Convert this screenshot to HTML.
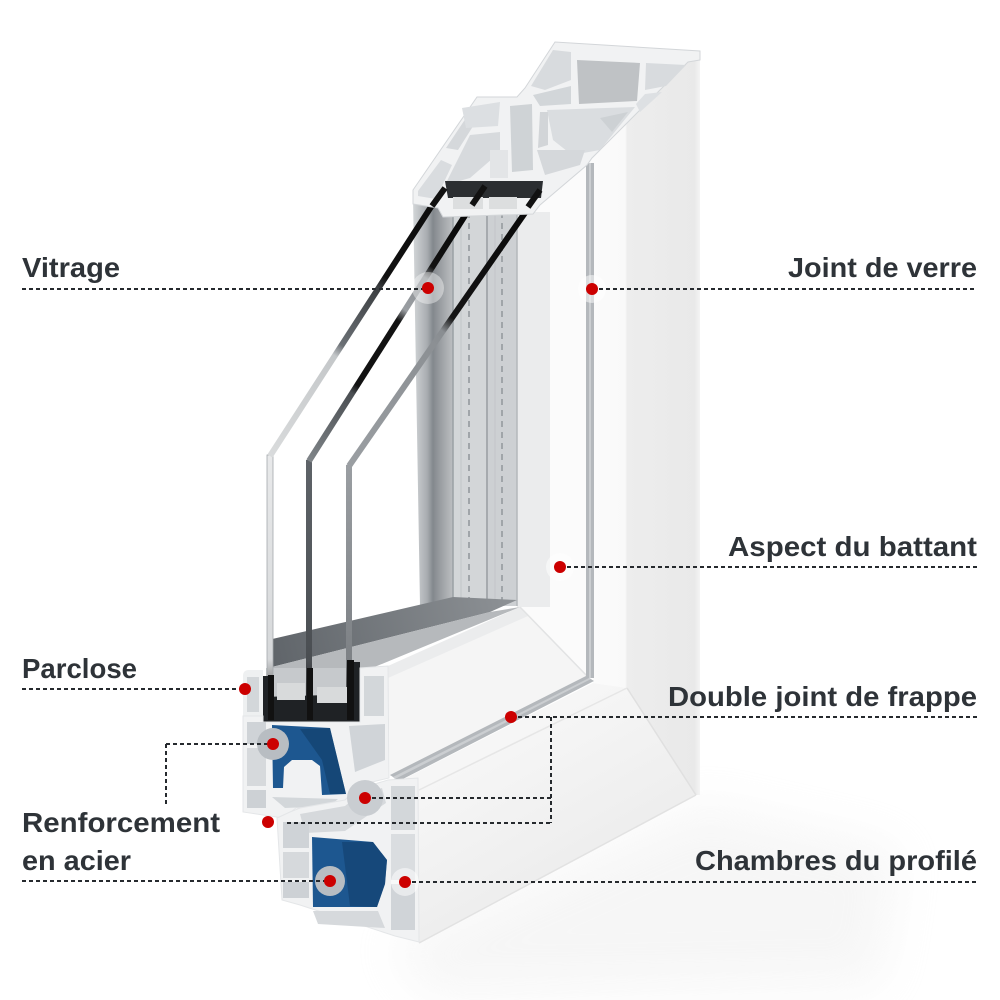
<!DOCTYPE html>
<html><head><meta charset="utf-8">
<style>
html,body{margin:0;padding:0;background:#fff;}
svg{display:block;}
text{font-family:"Liberation Sans",Arial,sans-serif;font-weight:bold;fill:#2e3338;font-size:28px;}
</style></head><body>
<svg width="1000" height="1000" viewBox="0 0 1000 1000" xmlns="http://www.w3.org/2000/svg">
<defs>
  <filter id="blur" x="-30%" y="-60%" width="160%" height="220%"><feGaussianBlur stdDeviation="24"/></filter>
  <linearGradient id="slab" gradientUnits="userSpaceOnUse" x1="593" y1="0" x2="700" y2="0">
    <stop offset="0" stop-color="#fbfbfb"/><stop offset="0.3" stop-color="#f9f9f9"/>
    <stop offset="0.32" stop-color="#ededed"/><stop offset="0.95" stop-color="#e9e9e9"/><stop offset="1" stop-color="#f4f4f4"/>
  </linearGradient>
  <linearGradient id="bface" gradientUnits="userSpaceOnUse" x1="500" y1="700" x2="600" y2="880">
    <stop offset="0" stop-color="#f8f8f8"/><stop offset="1" stop-color="#ececec"/>
  </linearGradient>
  <linearGradient id="band" gradientUnits="userSpaceOnUse" x1="413" y1="0" x2="453" y2="0">
    <stop offset="0" stop-color="#d3d6d8"/><stop offset="0.35" stop-color="#a9adb1"/>
    <stop offset="0.5" stop-color="#83888d"/><stop offset="1" stop-color="#90949899"/>
  </linearGradient>
  <linearGradient id="wedge" gradientUnits="userSpaceOnUse" x1="268" y1="660" x2="517" y2="600">
    <stop offset="0" stop-color="#5f6469"/><stop offset="1" stop-color="#8e9296"/>
  </linearGradient>
  <linearGradient id="d1" gradientUnits="userSpaceOnUse" x1="270" y1="455" x2="440" y2="193">
    <stop offset="0" stop-color="#d9dbdc"/><stop offset="0.38" stop-color="#c4c7c9"/>
    <stop offset="0.42" stop-color="#6b7075"/><stop offset="0.64" stop-color="#3a3d40"/>
    <stop offset="0.68" stop-color="#111"/><stop offset="1" stop-color="#0c0c0c"/>
  </linearGradient>
  <linearGradient id="d2" gradientUnits="userSpaceOnUse" x1="309" y1="460" x2="480" y2="192">
    <stop offset="0" stop-color="#7f8488"/><stop offset="0.25" stop-color="#4a4e52"/>
    <stop offset="0.28" stop-color="#121212"/><stop offset="0.52" stop-color="#121212"/>
    <stop offset="0.56" stop-color="#9a9ea2"/><stop offset="0.68" stop-color="#8a8e92"/>
    <stop offset="0.72" stop-color="#111"/><stop offset="1" stop-color="#050505"/>
  </linearGradient>
  <linearGradient id="d3" gradientUnits="userSpaceOnUse" x1="349" y1="465" x2="536" y2="197">
    <stop offset="0" stop-color="#9a9ea2"/><stop offset="0.5" stop-color="#8a8e92"/>
    <stop offset="0.55" stop-color="#151515"/><stop offset="1" stop-color="#080808"/>
  </linearGradient>
  <linearGradient id="v2" x1="0" y1="0" x2="0" y2="1">
    <stop offset="0" stop-color="#5e6368"/><stop offset="0.8" stop-color="#4a4e52"/><stop offset="1" stop-color="#1a1a1a"/>
  </linearGradient>
  <linearGradient id="v3" x1="0" y1="0" x2="0" y2="1">
    <stop offset="0" stop-color="#9a9ea2"/><stop offset="0.8" stop-color="#7d8185"/><stop offset="1" stop-color="#2a2a2a"/>
  </linearGradient>
  <linearGradient id="v1" x1="0" y1="0" x2="0" y2="1">
    <stop offset="0" stop-color="#e8e9ea"/><stop offset="0.8" stop-color="#d6d8da"/><stop offset="1" stop-color="#3a3a3a"/>
  </linearGradient>
</defs>

<rect width="1000" height="1000" fill="#fff"/>

<!-- floor shadow -->
<polygon points="390,945 700,805 900,850 880,985 430,995" fill="#e4e4e4" opacity="0.32" filter="url(#blur)"/>

<!-- frame right vertical face -->
<polygon points="590,160 688,60 700,52 700,795 695,795 627,688 593,683" fill="url(#slab)"/>
<!-- frame bottom face -->
<polygon points="593,683 627,688 696,795 419,943 418,778 398,782" fill="url(#bface)"/>
<line x1="627" y1="688" x2="696" y2="795" stroke="#e0e0e0" stroke-width="1.5"/>
<line x1="419" y1="790" x2="627" y2="688" stroke="#e6e6e6" stroke-width="1.5"/>
<line x1="696" y1="795" x2="419" y2="943" stroke="#e2e2e2" stroke-width="1.5"/>

<!-- sash vertical face -->
<polygon points="517,215 540,205 587,165 587,676 520,607 517,607" fill="#fbfbfb"/>
<rect x="517" y="212" width="33" height="395" fill="#ebeced"/>
<!-- sash bottom face -->
<polygon points="388,666 520,607 587,676 390,776" fill="#f5f5f5"/>
<polygon points="388,666 520,607 528,616 388,678" fill="#ebeced"/>
<line x1="520" y1="607" x2="587" y2="676" stroke="#e2e3e4" stroke-width="1.5"/>

<!-- gasket -->
<rect x="586" y="163" width="8" height="515" fill="#b4b8bc"/>
<rect x="589" y="163" width="2" height="515" fill="#cbced1"/>
<polygon points="586,676 594,681 399,781 390,775" fill="#b4b8bc"/>
<polygon points="589,678 591,679 395,779 393,777" fill="#cbced1"/>

<!-- view through glass: parclose band and spacers -->
<polygon points="413,198 453,198 453,606 420,606" fill="url(#band)"/>
<rect x="453" y="198" width="34" height="408" fill="#d3d6d8"/>
<rect x="487" y="198" width="30" height="408" fill="#cdd0d3"/>
<line x1="453" y1="198" x2="453" y2="606" stroke="#9aa0a4" stroke-width="1.5"/>
<line x1="487" y1="198" x2="487" y2="606" stroke="#a6aaae" stroke-width="2"/>
<line x1="517" y1="198" x2="517" y2="606" stroke="#b4b8bb" stroke-width="1.5"/>
<line x1="469" y1="212" x2="469" y2="600" stroke="#a0a5a9" stroke-width="2" stroke-dasharray="6 5"/>
<line x1="502" y1="212" x2="502" y2="600" stroke="#a0a5a9" stroke-width="2" stroke-dasharray="6 5"/>
<line x1="461" y1="212" x2="461" y2="600" stroke="#c2c5c8" stroke-width="1"/>
<line x1="495" y1="212" x2="495" y2="600" stroke="#c2c5c8" stroke-width="1"/>

<!-- bottom of glazing: dark band, light strip -->
<polygon points="268,640 453,597 517,600 490,612 268,668" fill="url(#wedge)"/>
<polygon points="268,668 490,612 520,607 360,673 268,692" fill="#b6b9bc"/>
<rect x="266" y="668" width="92" height="32" fill="#c6c9cc"/>

<!-- glass panes -->
<rect x="267" y="455" width="6" height="255" fill="url(#v1)" stroke="#a4a8ac" stroke-width="0.8"/>
<line x1="270" y1="456" x2="440" y2="193" stroke="url(#d1)" stroke-width="6"/>
<rect x="306" y="460" width="6" height="250" fill="url(#v2)"/>
<line x1="309" y1="461" x2="480" y2="192" stroke="url(#d2)" stroke-width="6"/>
<rect x="346" y="465" width="6" height="245" fill="url(#v3)"/>
<line x1="349" y1="466" x2="536" y2="197" stroke="url(#d3)" stroke-width="6"/>

<!-- top cut section -->
<polygon points="413,204 413,190 477,97 517,97 525,88 555,42 700,51 700,60 688,62 592,158 587,165 540,205 533,214 443,217 438,208" fill="#f1f2f3" stroke="#d3d6d9" stroke-width="1"/>
<!-- frame chambers -->
<polygon points="531,86 553,50 571,52 571,80 545,90" fill="#d8dbde"/>
<polygon points="533,95 571,86 571,104 540,106" fill="#d2d6d9"/>
<polygon points="577,60 640,63 637,101 579,104" fill="#bfc2c5"/>
<polygon points="646,63 686,65 666,86 645,90" fill="#d8dbde"/>
<polygon points="645,94 662,92 640,112 636,104" fill="#dde0e3"/>
<polygon points="547,110 635,107 600,150 572,155 553,140" fill="#dadde0"/>
<polygon points="600,118 628,112 612,132" fill="#cdd1d4"/>
<!-- sash chambers -->
<polygon points="418,196 418,191 441,160 452,165 436,199" fill="#d9dcdf"/>
<polygon points="446,148 470,112 482,112 458,150" fill="#d5d8db"/>
<polygon points="462,108 500,102 498,126 466,128" fill="#dcdfe2"/>
<polygon points="445,185 470,135 500,132 500,152 470,178" fill="#d7dadd"/>
<polygon points="510,106 532,104 533,170 512,172" fill="#cfd3d6"/>
<polygon points="490,150 508,150 508,178 490,178" fill="#e3e5e7"/>
<polygon points="537,150 585,150 580,165 545,175" fill="#d5d8db"/>
<polygon points="540,112 548,112 548,145 538,148" fill="#d2d5d8"/>
<!-- black glass top -->
<polygon points="445,181 543,181 541,198 448,198" fill="#2b2e31"/>
<rect x="453" y="197" width="30" height="12" fill="#dcdedf"/>
<rect x="489" y="197" width="28" height="12" fill="#dcdedf"/>
<line x1="432" y1="206" x2="445" y2="188" stroke="#111" stroke-width="6"/>
<line x1="472" y1="205" x2="485" y2="186" stroke="#111" stroke-width="6"/>
<line x1="528" y1="207" x2="540" y2="190" stroke="#111" stroke-width="6"/>

<!-- bottom: black glass base -->
<polygon points="263,697 360,694 360,722 263,722" fill="#1f2225"/>
<rect x="263" y="676" width="6" height="46" fill="#1f2225"/>
<rect x="354" y="662" width="6" height="60" fill="#1f2225"/>
<rect x="277" y="683" width="28" height="17" fill="#d8dadb"/>
<rect x="317" y="687" width="31" height="16" fill="#d8dadb"/>
<rect x="268" y="675" width="6" height="45" fill="#111"/>
<rect x="307" y="668" width="6" height="52" fill="#111"/>
<rect x="347" y="660" width="7" height="60" fill="#111"/>

<!-- parclose -->
<path d="M243,676 Q243,670 249,670 L263,670 L263,716 L243,716 Z" fill="#eef0f1"/>
<rect x="247" y="677" width="12" height="35" fill="#d3d7da"/>

<!-- sash cut section -->
<polygon points="243,716 263,716 263,722 360,722 360,668 388,666 389,778 372,782 350,795 340,805 296,808 283,818 243,812" fill="#f1f2f3" stroke="#e4e6e8" stroke-width="1"/>
<rect x="364" y="676" width="20" height="40" fill="#d3d7da"/>
<rect x="247" y="722" width="19" height="22" fill="#cfd3d7"/>
<rect x="247" y="748" width="19" height="38" fill="#d6d9dc"/>
<rect x="247" y="790" width="19" height="18" fill="#cdd1d5"/>
<polygon points="349,726 385,724 385,760 355,772" fill="#d0d4d8"/>
<polygon points="272,797 338,799 330,806 285,808" fill="#d3d7da"/>

<!-- frame cut section -->
<polygon points="277,818 290,812 300,808 345,800 355,790 388,780 418,778 419,942 395,936 300,905 282,900" fill="#f1f2f3" stroke="#e4e6e8" stroke-width="1"/>
<polygon points="300,814 345,806 356,797 382,788 386,803 345,831 305,833" fill="#d6d9dc"/>
<rect x="283" y="822" width="26" height="26" fill="#cfd3d7"/>
<rect x="283" y="852" width="26" height="26" fill="#d6d9dc"/>
<rect x="283" y="882" width="26" height="16" fill="#cdd1d5"/>
<rect x="391" y="786" width="24" height="44" fill="#d3d7da"/>
<rect x="391" y="834" width="24" height="46" fill="#dadde0"/>
<rect x="391" y="884" width="24" height="46" fill="#d0d4d8"/>
<polygon points="313,911 378,911 385,928 318,924" fill="#d6d9dc"/>

<!-- blue reinforcements -->
<polygon points="272,725 330,728 346,794 322,795 320,766 312,760 292,760 284,767 283,788 273,788" fill="#1d5790"/>
<polygon points="300,729 330,728 346,794 330,794 322,760" fill="#0f3a63" opacity="0.55"/>
<polygon points="312,837 373,842 387,860 385,884 377,907 313,907" fill="#1d5790"/>
<polygon points="342,842 373,842 387,860 385,884 377,907 350,906" fill="#0f3a63" opacity="0.5"/>

<!-- halos -->
<circle cx="428" cy="288" r="16" fill="#fff" opacity="0.4"/>
<circle cx="592" cy="289" r="14" fill="#fff" opacity="0.5"/>
<circle cx="560" cy="567" r="14" fill="#fff" opacity="0.5"/>
<circle cx="273" cy="744" r="16" fill="#b8bdc2"/>
<circle cx="365" cy="798" r="18" fill="#c9cdd1"/>
<circle cx="330" cy="881" r="15" fill="#b8bdc2"/>
<circle cx="405" cy="882" r="14" fill="#fff" opacity="0.5"/>

<!-- dotted leader lines -->
<g stroke="#262a2e" stroke-width="2" stroke-dasharray="4 3" fill="none">
  <line x1="22" y1="289" x2="428" y2="289"/>
  <line x1="592" y1="289" x2="977" y2="289"/>
  <line x1="560" y1="567" x2="977" y2="567"/>
  <line x1="22" y1="689" x2="245" y2="689"/>
  <line x1="511" y1="717" x2="977" y2="717"/>
  <line x1="551" y1="717" x2="551" y2="823"/>
  <line x1="365" y1="798" x2="551" y2="798"/>
  <line x1="287" y1="823" x2="551" y2="823"/>
  <line x1="166" y1="744" x2="273" y2="744"/>
  <line x1="166" y1="744" x2="166" y2="804"/>
  <line x1="22" y1="881" x2="330" y2="881"/>
  <line x1="405" y1="882" x2="977" y2="882"/>
</g>

<!-- red dots -->
<g fill="#cc0000">
  <circle cx="428" cy="288" r="6"/>
  <circle cx="592" cy="289" r="6"/>
  <circle cx="560" cy="567" r="6"/>
  <circle cx="245" cy="689" r="6"/>
  <circle cx="511" cy="717" r="6"/>
  <circle cx="273" cy="744" r="6"/>
  <circle cx="365" cy="798" r="6"/>
  <circle cx="268" cy="822" r="6"/>
  <circle cx="330" cy="881" r="6"/>
  <circle cx="405" cy="882" r="6"/>
</g>

<!-- labels -->
<text x="22" y="277" textLength="98" lengthAdjust="spacingAndGlyphs">Vitrage</text>
<text x="788" y="277" textLength="189" lengthAdjust="spacingAndGlyphs">Joint de verre</text>
<text x="728" y="556" textLength="249" lengthAdjust="spacingAndGlyphs">Aspect du battant</text>
<text x="22" y="678" textLength="115" lengthAdjust="spacingAndGlyphs">Parclose</text>
<text x="668" y="706" textLength="309" lengthAdjust="spacingAndGlyphs">Double joint de frappe</text>
<text x="22" y="832" textLength="198" lengthAdjust="spacingAndGlyphs">Renforcement</text>
<text x="22" y="870" textLength="109" lengthAdjust="spacingAndGlyphs">en acier</text>
<text x="695" y="870" textLength="282" lengthAdjust="spacingAndGlyphs">Chambres du profilé</text>
</svg>
</body></html>
